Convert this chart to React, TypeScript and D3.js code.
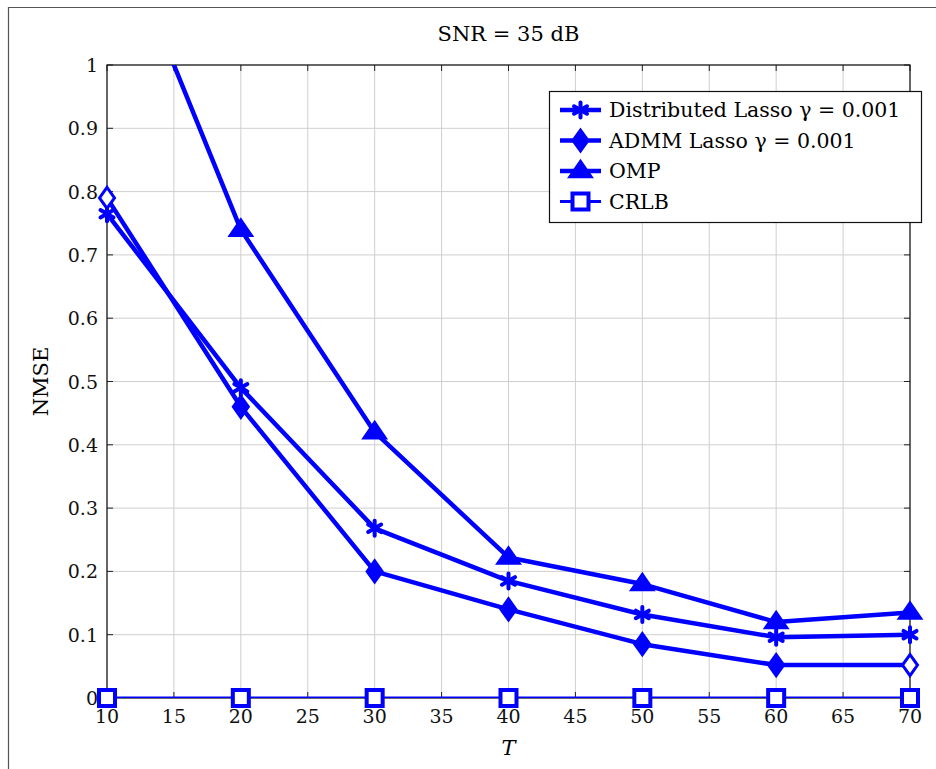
import React from "react";
import * as d3 from "d3";

// T values on the x axis
const tValues = [10, 20, 30, 40, 50, 60, 70];

// NMSE per series
const distLasso = [0.765, 0.49, 0.268, 0.185, 0.132, 0.096, 0.1];
const admmLasso = [0.79, 0.46, 0.2, 0.14, 0.085, 0.052, 0.052];
const omp = [1.26, 0.74, 0.42, 0.222, 0.18, 0.12, 0.135];
const crlb = [0, 0, 0, 0, 0, 0, 0];

const xTicks = [10, 15, 20, 25, 30, 35, 40, 45, 50, 55, 60, 65, 70];
const yTicks = [0, 0.1, 0.2, 0.3, 0.4, 0.5, 0.6, 0.7, 0.8, 0.9, 1];

const legendLabels = [
  "Distributed Lasso γ = 0.001",
  "ADMM Lasso γ = 0.001",
  "OMP",
  "CRLB",
];

const BLUE = "#0000ff";
const FONT = "DejaVu Serif";

function Marker({kind, x, y, hollow}: {kind: string; x: number; y: number; hollow?: boolean}) {
  if (kind === "asterisk") {
    const r = 7.5;
    const spokes = [90, 30, -30];
    return (
      <g stroke={BLUE} strokeWidth={4} strokeLinecap="round">
        {spokes.map(a => {
          const rad = (a * Math.PI) / 180;
          const dx = r * Math.cos(rad), dy = r * Math.sin(rad);
          return <line key={a} x1={x - dx} y1={y - dy} x2={x + dx} y2={y + dy}/>;
        })}
      </g>
    );
  }
  if (kind === "diamond") {
    const w = 7.5, h = 10.5;
    return (
      <path d={`M${x},${y - h}L${x + w},${y}L${x},${y + h}L${x - w},${y}Z`}
            fill={hollow ? "white" : BLUE} stroke={BLUE} strokeWidth={3} strokeLinejoin="miter"/>
    );
  }
  if (kind === "triangle") {
    const s = 10.5;
    return (
      <path d={`M${x},${y - s}L${x + s * 1.1},${y + s * 0.6}L${x - s * 1.1},${y + s * 0.6}Z`}
            fill={BLUE} stroke={BLUE} strokeWidth={2}/>
    );
  }
  const s = 8;
  return <rect x={x - s} y={y - s} width={2 * s} height={2 * s} fill="white" stroke={BLUE} strokeWidth={4}/>;
}

export default function App() {
  const width = 936, height = 769;
  const left = 107, right = 910, top = 65, bottom = 698;

  const x = d3.scaleLinear().domain([10, 70]).range([left, right]);
  const y = d3.scaleLinear().domain([0, 1]).range([bottom, top]);

  const series = [
    {values: distLasso, marker: "asterisk", width: 4.5},
    {values: admmLasso, marker: "diamond", width: 4.5},
    {values: omp, marker: "triangle", width: 4.5},
    {values: crlb, marker: "square", width: 3},
  ];

  const line = d3.line<number>().x((d, i) => x(tValues[i])).y(d => y(d));

  return (
    <svg width={width} height={height} style={{position: "absolute", left: 0, top: 0}}
         fontFamily={FONT}>
      <rect x={0} y={0} width={width} height={height} fill="white"/>
      {/* outer frame */}
      <path d={`M8.5,${height}V7.5H${width}`} fill="none" stroke="#555" strokeWidth={1.2}/>

      <defs>
        <clipPath id="plot">
          <rect x={left} y={top} width={right - left} height={bottom - top}/>
        </clipPath>
      </defs>

      {/* grid */}
      <g stroke="#cfcfcf" strokeWidth={1}>
        {xTicks.map(t => <line key={"gx" + t} x1={x(t)} x2={x(t)} y1={top} y2={bottom}/>)}
        {yTicks.map(t => <line key={"gy" + t} x1={left} x2={right} y1={y(t)} y2={y(t)}/>)}
      </g>

      {/* ticks */}
      <g stroke="#222" strokeWidth={1}>
        {xTicks.map(t => (
          <g key={"tx" + t}>
            <line x1={x(t)} x2={x(t)} y1={bottom} y2={bottom - 6}/>
            <line x1={x(t)} x2={x(t)} y1={top} y2={top + 6}/>
          </g>
        ))}
        {yTicks.map(t => (
          <g key={"ty" + t}>
            <line x1={left} x2={left + 6} y1={y(t)} y2={y(t)}/>
            <line x1={right} x2={right - 6} y1={y(t)} y2={y(t)}/>
          </g>
        ))}
      </g>
      <rect x={left} y={top} width={right - left} height={bottom - top} fill="none" stroke="#111" strokeWidth={1.2}/>

      {/* lines */}
      <g clipPath="url(#plot)">
        {series.map((s, i) => (
          <path key={i} d={line(s.values) || ""} fill="none" stroke={BLUE} strokeWidth={s.width}
                strokeLinejoin="round"/>
        ))}
      </g>
      {/* markers */}
      {series.map((s, i) =>
        s.values.map((v, j) => v <= 1 ? (
          <Marker key={i + "-" + j} kind={s.marker} x={x(tValues[j])} y={y(v)}
                  hollow={s.marker === "diamond" && (j === 0 || j === tValues.length - 1)}/>
        ) : null)
      )}

      {/* tick labels */}
      <g fontSize={19} fill="#111">
        {xTicks.map(t => (
          <text key={"lx" + t} x={x(t)} y={bottom + 25} textAnchor="middle">{t}</text>
        ))}
        {yTicks.map(t => (
          <text key={"ly" + t} x={left - 9} y={y(t) + 7} textAnchor="end">{t === 0 || t === 1 ? String(t) : t.toFixed(1)}</text>
        ))}
      </g>

      {/* axis titles */}
      <text x={(left + right) / 2} y={755} textAnchor="middle" fontSize={21} fontStyle="italic">T</text>
      <text transform={`translate(48,${(top + bottom) / 2}) rotate(-90)`} textAnchor="middle" fontSize={21}>NMSE</text>
      <text x={(left + right) / 2} y={41} textAnchor="middle" fontSize={21}>SNR = 35 dB</text>

      {/* legend */}
      <g>
        <rect x={549.5} y={91.5} width={372} height={131} fill="white" stroke="#111" strokeWidth={1.2}/>
        {series.map((s, i) => {
          const ly = 110 + i * 30.5;
          return (
            <g key={"lg" + i}>
              <line x1={560} x2={601} y1={ly} y2={ly} stroke={BLUE} strokeWidth={s.width}/>
              <Marker kind={s.marker} x={580.5} y={ly}/>
              <text x={609} y={ly + 7} fontSize={20.5}>{legendLabels[i]}</text>
            </g>
          );
        })}
      </g>
    </svg>
  );
}
